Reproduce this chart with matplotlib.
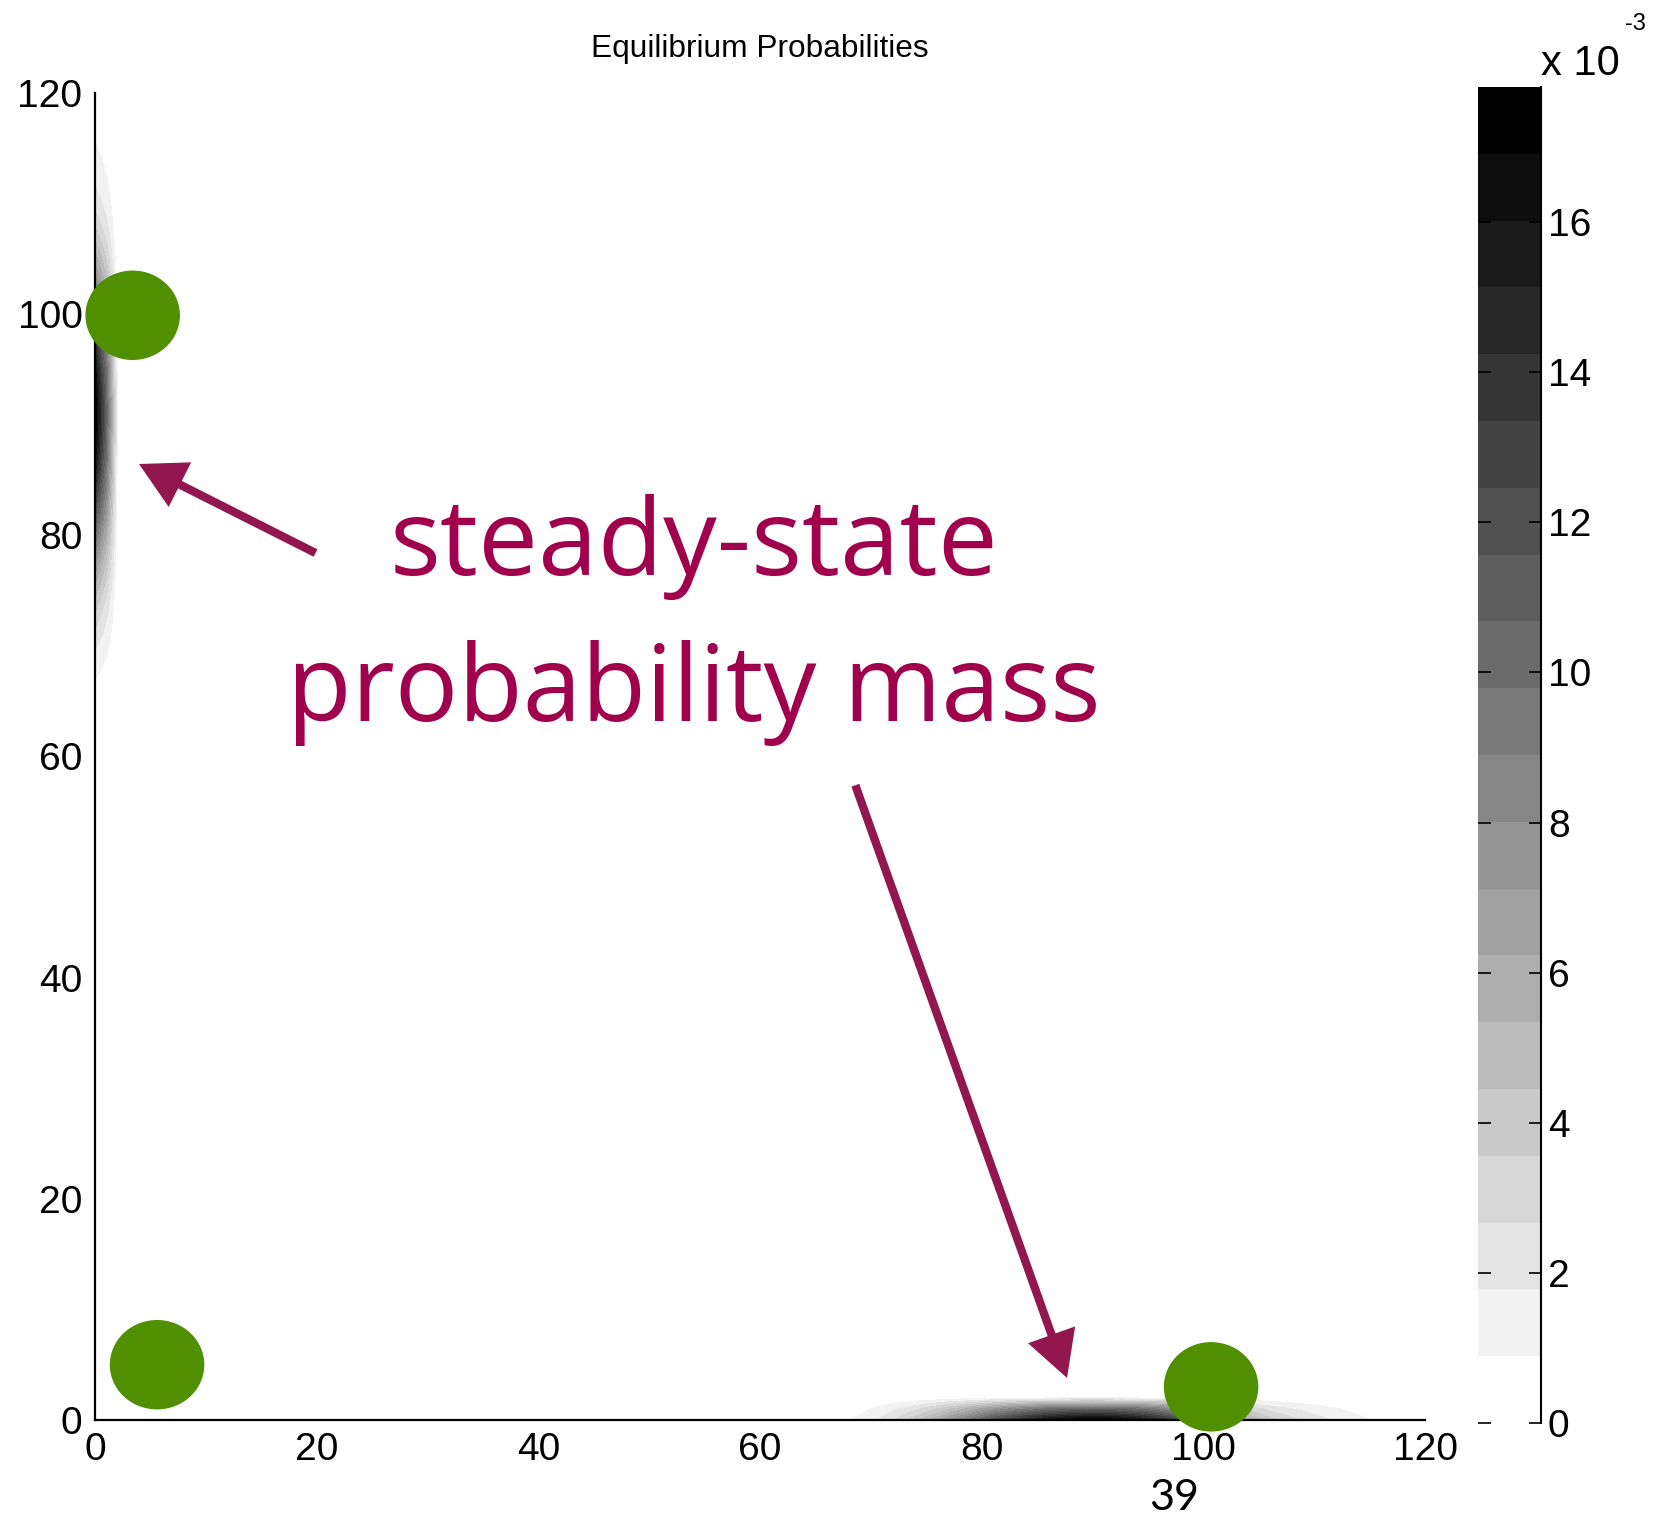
import numpy as np
import matplotlib.pyplot as plt
from matplotlib.patches import Ellipse

plt.rcParams['font.family'] = ['Liberation Sans', 'DejaVu Sans']

# steady-state probability along the x = 0 column (units of 1e-3), y = 64..117
left_y = np.arange(64, 118)
left_p = [0.3, 0.5, 0.7, 0.9, 1.2, 1.5, 1.9, 2.4, 2.9, 3.5,
          4.2, 5.0, 5.8, 6.7, 7.7, 8.7, 9.8, 10.9, 12.0, 13.0,
          14.0, 14.9, 15.7, 16.4, 17.0, 17.4, 17.7, 17.8, 17.7, 17.4,
          17.0, 16.4, 15.6, 14.7, 13.7, 12.6, 11.5, 10.3, 9.1, 8.0,
          6.9, 5.9, 5.0, 4.2, 3.5, 2.9, 2.4, 2.0, 1.7, 1.4,
          1.2, 1.0, 0.8, 0.6]

# steady-state probability along the y = 0 row (units of 1e-3), x = 66..117
bottom_x = np.arange(66, 118)
bottom_p = [0.3, 0.5, 0.8, 1.1, 1.5, 2.0, 2.6, 3.3, 4.1, 5.0,
            6.0, 7.1, 8.2, 9.4, 10.6, 11.8, 12.9, 13.9, 14.8, 15.6,
            16.3, 16.8, 17.2, 17.4, 17.5, 17.4, 17.2, 16.8, 16.2, 15.5,
            14.6, 13.6, 12.5, 11.3, 10.1, 8.9, 7.7, 6.6, 5.6, 4.7,
            3.9, 3.4, 3.0, 2.6, 2.2, 1.9, 1.6, 1.3, 1.1, 0.9,
            0.7, 0.5]

# relative fall-off of the mass in the first rows/columns away from the axis
edge_falloff = [1.0, 0.6, 0.05]

p_max = 17.8
n_bands = 20
axis_ticks = [0, 20, 40, 60, 80, 100, 120]
cbar_ticks = [0, 2, 4, 6, 8, 10, 12, 14, 16]

# green dots marking the stable states
dot_x = [3.4, 5.6, 100.7]
dot_y = [99.9, 5.0, 3.0]

# build probability grid
n = 121
P = np.zeros((n, n))
for j, f in enumerate(edge_falloff):
    P[left_y, j] = np.maximum(P[left_y, j], np.array(left_p) * f)
    P[j, bottom_x] = np.maximum(P[j, bottom_x], np.array(bottom_p) * f)
P = P * 1e-3
X, Y = np.meshgrid(np.arange(n), np.arange(n))

levels = np.linspace(0, p_max * 1e-3, n_bands + 1)
grays = [str(1 - i / (n_bands - 1)) for i in range(n_bands)]

fig = plt.figure(figsize=(16.53, 15.16), dpi=100)
W, H = 1653, 1516
ax = fig.add_axes([95 / W, 1 - 1420 / H, 1330 / W, 1327 / H])
cs = ax.contourf(X, Y, P, levels=levels, colors=grays)

ax.set_xlim(0, 120)
ax.set_ylim(0, 120)
ax.set_xticks(axis_ticks)
ax.set_yticks(axis_ticks)
ax.spines['top'].set_visible(False)
ax.spines['right'].set_visible(False)
ax.spines['left'].set_linewidth(1.6)
ax.spines['bottom'].set_linewidth(1.6)
ax.tick_params(length=0, labelsize=28, pad=9)
ax.set_title('Equilibrium Probabilities', fontsize=22.8, pad=26)

for x, y in zip(dot_x, dot_y):
    ax.add_patch(Ellipse((x, y), 8.4, 7.96, color='#4f8f00', clip_on=False, zorder=5))

arrow_col = '#93174f'
ax.annotate('', xy=(3.97, 86.45), xytext=(19.9, 78.4),
            arrowprops=dict(arrowstyle='simple,head_length=1.1,head_width=1.2,tail_width=0.2',
                            mutation_scale=30, color=arrow_col, lw=0, shrinkA=0, shrinkB=0),
            annotation_clip=False)
ax.annotate('', xy=(87.7, 3.8), xytext=(68.6, 57.4),
            arrowprops=dict(arrowstyle='simple,head_length=1.1,head_width=1.2,tail_width=0.2',
                            mutation_scale=30, color=arrow_col, lw=0, shrinkA=0, shrinkB=0),
            annotation_clip=False)

text_col = '#a0004c'
fig.text(694 / W, 1 - 575 / H, 'steady-state', color=text_col, fontsize=77,
         family='Open Sans', ha='center', va='baseline')
fig.text(694 / W, 1 - 721 / H, 'probability mass', color=text_col, fontsize=76,
         family='Open Sans', ha='center', va='baseline')

# colorbar
cax = fig.add_axes([1478 / W, 1 - 1423 / H, 63 / W, 1336 / H])
cb = fig.colorbar(cs, cax=cax)
cb.set_ticks(np.array(cbar_ticks) * 1e-3)
cb.set_ticklabels([str(t) for t in cbar_ticks])
cb.outline.set_visible(False)
cax.minorticks_off()
cax.tick_params(axis='y', direction='in', left=True, right=True, length=9, width=1.2,
                labelsize=28, pad=5)
cax.plot([1, 1], [0, 1], transform=cax.transAxes, color='k', lw=1.5, clip_on=False)

fig.text(1541 / W, 1 - 75 / H, 'x 10', fontsize=30, ha='left', va='baseline')
fig.text(1625 / W, 1 - 30 / H, '-3', fontsize=17, ha='left', va='baseline')

fig.text(1174 / W, 1 - 1498 / H, '39', fontsize=31, family='Lato', ha='center', va='center')

fig.savefig('out.png', dpi=100)
